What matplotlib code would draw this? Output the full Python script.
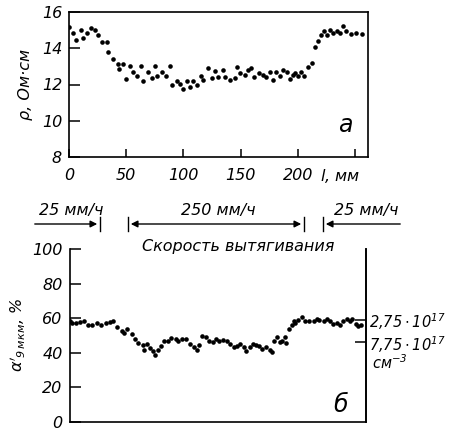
import matplotlib
matplotlib.use("Agg")
import matplotlib.pyplot as plt

plt.rcParams["font.family"] = ["DejaVu Sans"]
plt.rcParams["font.style"] = "italic"
plt.rcParams["mathtext.fontset"] = "dejavusans"
plt.rcParams["mathtext.default"] = "it"

# resistivity along the crystal (a)
rho_l = [0, 3.2, 6.1, 10.5, 12.5, 16, 19, 22.7, 25.6, 29, 32.9, 34.4, 38.7, 42.5,
         44, 46.9, 49.8, 53.3, 56.2, 59.1, 63.2, 64.9, 68.7, 72.2, 75.1, 77.1,
         81.5, 84.7, 88.2, 89.7, 94, 96.9, 99.9, 103.3, 105.7, 108.6, 112, 115,
         117.3, 121.7, 124.9, 127.5, 130.4, 134.2, 136.5, 140.6, 145, 147, 149.3,
         153.7, 156.6, 158.7, 161.9, 166.2, 169.7, 172, 175.5, 177.9, 180.8,
         184.3, 187.2, 190.1, 193, 195.9, 197.4, 199.7, 202.6, 205.2, 209, 211.9,
         214.8, 217.8, 220.1, 222.7, 225, 227.9, 230.3, 234.4, 236.7, 239.6, 242,
         246, 251.2, 256.2]
rho = [15.18, 14.86, 14.47, 15.03, 14.54, 14.86, 15.14, 15.03, 14.75, 14.36,
       14.36, 13.81, 13.42, 13.12, 12.86, 13.12, 12.28, 13.01, 12.7, 12.47,
       13.01, 12.22, 12.7, 12.34, 13.01, 12.47, 12.67, 12.45, 13.01, 11.96,
       12.19, 12.04, 11.74, 12.19, 11.85, 12.19, 12.0, 12.45, 12.26, 12.93,
       12.34, 12.75, 12.41, 12.79, 12.41, 12.26, 12.34, 12.97, 12.64, 12.52,
       12.79, 12.93, 12.41, 12.64, 12.52, 12.41, 12.71, 12.26, 12.71, 12.49,
       12.79, 12.71, 12.3, 12.52, 12.64, 12.45, 12.71, 12.45, 12.97, 13.2,
       14.09, 14.39, 14.73, 14.95, 14.73, 15.03, 14.84, 14.95, 14.86, 15.21,
       14.95, 14.77, 14.84, 14.8]

# absorption at 9 um (б)
alpha_l = [0, 2.3, 6.1, 9.6, 13.1, 16, 19.8, 24.2, 27.7, 32.3, 35.8, 38.1, 42.2,
           46, 48.3, 51, 54.7, 57.6, 60.6, 64.3, 65.5, 67.8, 70.7, 73.1, 75.1,
           78, 80.9, 83.3, 86.8, 89.7, 93.4, 95.8, 99.3, 102.8, 105.7, 109.2,
           112.1, 113.8, 116.7, 120.2, 123.1, 126.6, 128.9, 131.9, 135.4, 138.6,
           141.2, 144.9, 147.8, 149.9, 153.7, 155.2, 158.7, 161.6, 163.9, 166.8,
           169.7, 172.6, 176.1, 177.9, 179.9, 182.8, 184.9, 187.2, 189.5, 190.7,
           193, 195.9, 197.4, 198.8, 201.2, 204.7, 207.6, 211.1, 214.8, 217.8,
           219.8, 223.6, 226.5, 229.4, 232.3, 235.2, 238.2, 241.1, 244, 246.9,
           248.9, 251.8, 254.2, 256.5]
alpha = [58.1, 57.2, 57.2, 57.8, 58.5, 55.9, 55.9, 57.2, 56.3, 57.2, 57.8, 58.5,
         54.8, 52.6, 51.5, 53.5, 50.7, 48, 45.6, 44.3, 41.9, 45.2, 43, 41.1, 38.7,
         41.5, 43.7, 46.7, 47, 48.5, 48, 47, 48, 48, 45.2, 43.3, 41.5, 44.3, 49.8,
         48.9, 47, 46.1, 48, 47, 47.4, 46.7, 45.2, 43.3, 43.7, 45.2, 43.3, 41.1,
         43.3, 45.2, 44.3, 43.7, 42.4, 43.3, 41.5, 40.6, 47, 48.9, 46.1, 46.7,
         49.3, 45.6, 53.5, 56.3, 58.5, 57.2, 59.1, 60.9, 58.1, 58.5, 58.1, 59.6,
         59.1, 58.5, 59.6, 58.5, 56.7, 57.2, 56.3, 58.1, 59.6, 58.5, 59.6, 56.7,
         55.4, 56.3]

rho_ticks = [8, 10, 12, 14, 16]
l_ticks = [0, 50, 100, 150, 200, 250]
l_labels = ["0", "50", "100", "150", "200", ""]
alpha_ticks = [0, 20, 40, 60, 80, 100]
conc_pos = [59, 46]
conc_labels = [r"$2{,}75\cdot10^{17}$", r"$7{,}75\cdot10^{17}$"]

W, H = 453, 432
fig = plt.figure(figsize=(W / 100, H / 100), dpi=100)


def fx(x):
    return x / W


def fy(y):
    return 1 - y / H


fs = 11.5

# panel a
ax1 = fig.add_axes([fx(69), fy(157), fx(367.7) - fx(69), fy(12) - fy(157)])
ax1.plot(rho_l, rho, "o", color="black", ms=3.3, mew=0)
ax1.set_xlim(0, 261)
ax1.set_ylim(8, 16)
ax1.set_yticks(rho_ticks)
ax1.set_xticks(l_ticks)
ax1.set_xticklabels(l_labels)
ax1.tick_params(direction="in", length=8, width=1.1, labelsize=fs, pad=5)
ax1.tick_params(axis="x", length=6, pad=8)
for s in ax1.spines.values():
    s.set_linewidth(1.2)
ax1.set_ylabel("ρ, Ом·см", fontsize=fs, labelpad=6)
ax1.text(0.95, 0.22, "а", transform=ax1.transAxes, fontsize=17,
         ha="right", va="center")
fig.text(fx(340), fy(176), "$l$, мм", fontsize=fs, ha="center", va="center")

# panel б
ax2 = fig.add_axes([fx(69.5), fy(422), fx(366) - fx(69.5), fy(249) - fy(422)])
ax2.plot(alpha_l, alpha, "o", color="black", ms=3.3, mew=0)
ax2.set_xlim(0, 261)
ax2.set_ylim(0, 100)
ax2.set_yticks(alpha_ticks)
ax2.set_xticks([])
ax2.spines["top"].set_visible(False)
for s in ax2.spines.values():
    s.set_linewidth(1.2)
ax2.tick_params(direction="in", length=8, width=1.1, labelsize=fs, pad=5)
ax2.set_ylabel(r"$\alpha'_{9\,мкм}$, %", fontsize=fs, labelpad=4)
ax2.text(0.94, 0.1, "б", transform=ax2.transAxes, fontsize=17,
         ha="right", va="center")

axr = ax2.twinx()
axr.set_ylim(0, 100)
axr.set_yticks(conc_pos)
axr.set_yticklabels(conc_labels)
for k in ["top", "left", "bottom"]:
    axr.spines[k].set_visible(False)
axr.spines["right"].set_linewidth(1.2)
axr.tick_params(direction="in", length=8, width=1.1, labelsize=10.5, pad=2)
fig.text(fx(372), fy(363), "см$^{-3}$", fontsize=10.5, ha="left", va="center")

# pulling-speed bands between the panels
ya = fy(224)
fig.text(fx(71), fy(211), "25 мм/ч", fontsize=fs, ha="center", va="center")
fig.text(fx(218), fy(211), "250 мм/ч", fontsize=fs, ha="center", va="center")
fig.text(fx(366), fy(211), "25 мм/ч", fontsize=fs, ha="center", va="center")
fig.text(fx(238), fy(246), "Скорость вытягивания", fontsize=fs,
         ha="center", va="center")

arrow = dict(arrowstyle="-|>", color="black", lw=1.0, mutation_scale=10)
fig.add_artist(matplotlib.patches.FancyArrowPatch(
    (fx(32), ya), (fx(100), ya), transform=fig.transFigure, **arrow))
fig.add_artist(matplotlib.patches.FancyArrowPatch(
    (fx(128), ya), (fx(304), ya), transform=fig.transFigure,
    arrowstyle="<|-|>", color="black", lw=1.0, mutation_scale=10))
fig.add_artist(matplotlib.patches.FancyArrowPatch(
    (fx(403), ya), (fx(323), ya), transform=fig.transFigure, **arrow))
for xb in [100, 128, 304, 323]:
    fig.add_artist(plt.Line2D([fx(xb), fx(xb)], [fy(217), fy(231)],
                              transform=fig.transFigure, color="black", lw=1.0))

fig.savefig("out.png", dpi=100)
